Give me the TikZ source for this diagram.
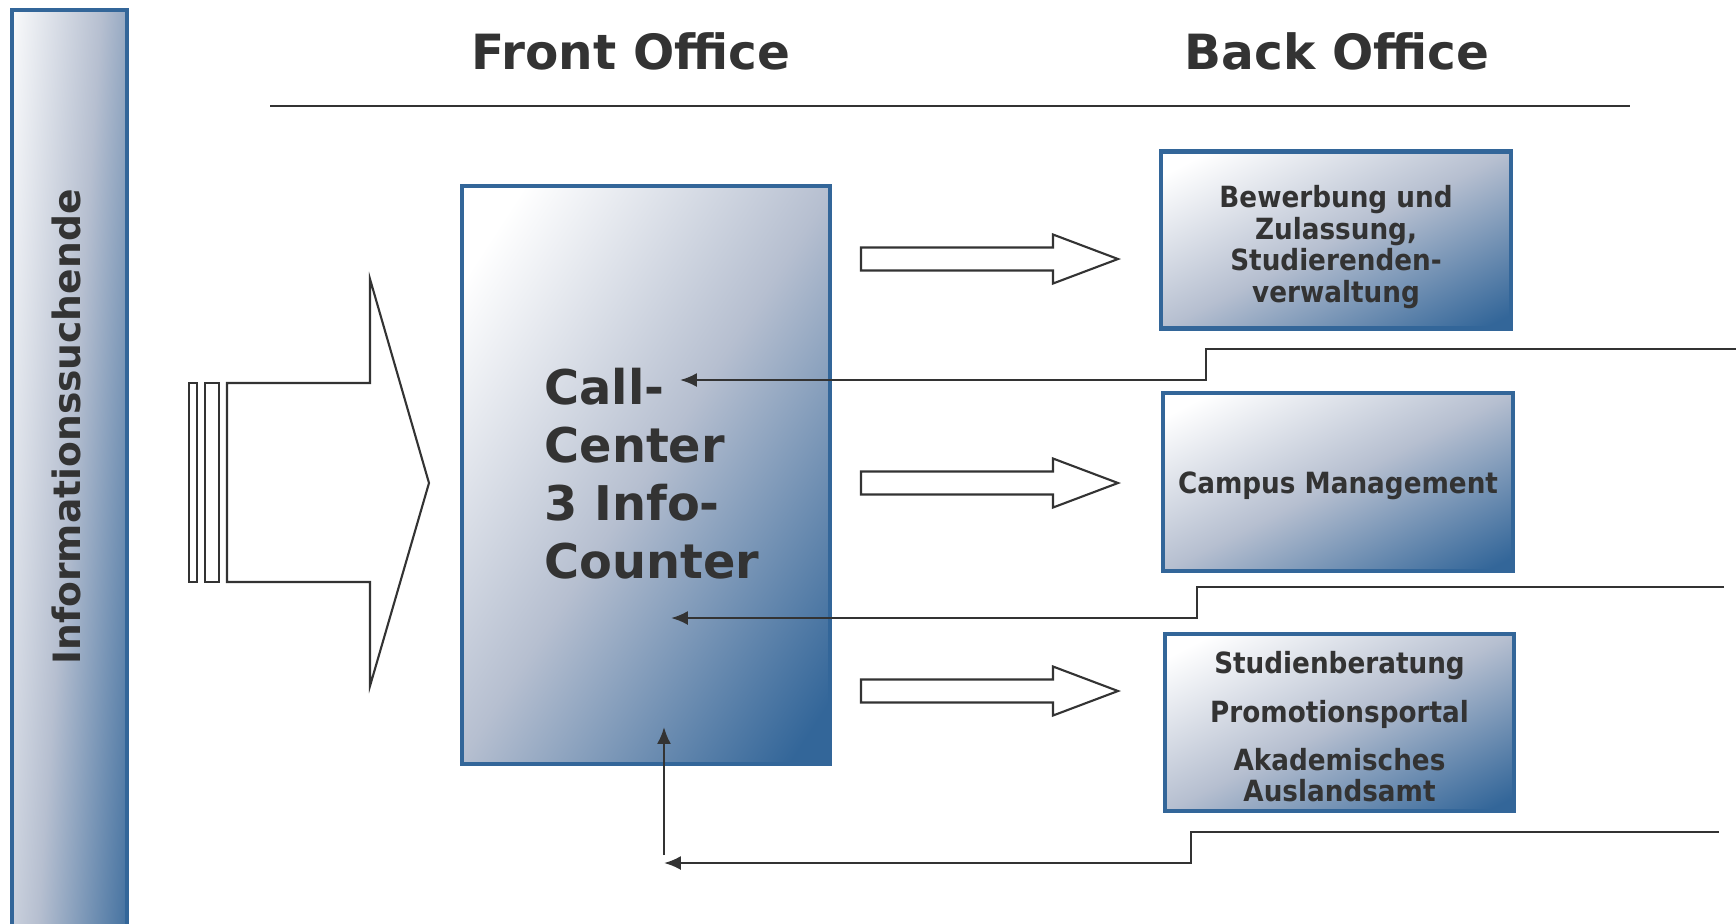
\documentclass[tikz,border=0pt]{standalone}
\usepackage{fontspec}
\usepackage{xcolor}
\usepackage{tikz}
\usetikzlibrary{arrows.meta}

\newfontfamily\headfont{DejaVu Sans}
\newfontfamily\boxfont{DejaVu Sans Condensed}

\definecolor{boxblue}{HTML}{336699}
\definecolor{boxmid}{HTML}{B6BFD0}
\definecolor{txtgray}{HTML}{333333}

\pgfdeclareverticalshading{officeshade}{100bp}{color(0bp)=(boxblue); color(19bp)=(boxblue);
  color(50bp)=(boxmid); color(79bp)=(white); color(100bp)=(white)}

\tikzset{
  officebox/.style={draw=boxblue, line width=1.2pt, inner sep=0pt, shade, shading=officeshade},
  headline/.style={font=\headfont\bfseries\fontsize{13.8}{16}\selectfont, text=txtgray},
  cclabel/.style={font=\headfont\bfseries\fontsize{13.6}{16.5}\selectfont, text=txtgray, align=left},
  backlabel/.style={font=\boxfont\bfseries\fontsize{8.3}{9}\selectfont, text=txtgray, align=center},
  hollow/.style={draw=txtgray, line width=0.6pt, fill=white, line join=miter},
  feedback/.style={draw=txtgray, line width=0.7pt, -{Latex[length=4.8pt,width=4pt]}},
}

\begin{document}
\begin{tikzpicture}[x=0.01cm,y=-0.01cm]
\useasboundingbox (0,0) rectangle (1736,923);

% Column headings and rule
\node[headline] (front) at (631,51) {Front Office};
\node[headline] (back) at (1337,51) {Back Office};
\draw[txtgray, line width=0.6pt] (270,106) -- (1630,106);

% Information seekers on the left
\node[officebox, shading angle=86, minimum width=1.15cm, minimum height=9.2cm] (seeker) at (69.5,470) {};
\node[rotate=90, font=\headfont\bfseries\fontsize{10.7}{13}\selectfont, text=txtgray] (seekertext) at (66,427) {Informationssuchende};

% Big striped arrow into the front office
\draw[hollow] (189,383) rectangle (197,582);
\draw[hollow] (205,383) rectangle (219,582);
\draw[hollow] (227,383) -- (370,383) -- (370,279) -- (429,483) -- (370,686) -- (370,582) -- (227,582) -- cycle;

% Front office
\node[officebox, shading angle=57, minimum width=3.68cm, minimum height=5.78cm] (cc) at (646,475) {};
\node[cclabel] (cctext) at (652,474) {Call-\\Center\\3 Info-\\Counter};

% Back office units
\node[officebox, shading angle=27, minimum width=3.5cm, minimum height=1.77cm] (bo1) at (1336,240) {};
\node[officebox, shading angle=27, minimum width=3.5cm, minimum height=1.78cm] (bo2) at (1338,482) {};
\node[officebox, shading angle=27, minimum width=3.49cm, minimum height=1.77cm] (bo3) at (1339.5,722.5) {};
\node[backlabel] (bo1text) at (1336,247) {Bewerbung und\\Zulassung,\\Studierenden-\\verwaltung};
\node[backlabel] (bo2text) at (1338,486) {Campus Management};
\node[backlabel] (bo3text) at (1339.5,727) {Studienberatung\\[4.7pt]Promotionsportal\\[4.7pt]Akademisches\\Auslandsamt};

% Hollow arrows from front to back office
\foreach \y in {259,483,691}
  \draw[hollow] (861,{\y-11.5}) -- (1053,{\y-11.5}) -- (1053,{\y-24.5}) -- (1118,\y)
    -- (1053,{\y+24.5}) -- (1053,{\y+11.5}) -- (861,{\y+11.5}) -- cycle;

% Answers coming back to the call center
\coordinate (in1) at (1736,349);
\coordinate (in2) at (1724,587);
\coordinate (in3) at (1719,832);
\coordinate (step1) at (1206,380);
\coordinate (step2) at (1197,618);
\coordinate (step3) at (1191,863);
\coordinate (tip1) at (680,380);
\coordinate (tip2) at (671,618);
\coordinate (tip3) at (664,863);
\coordinate (up0) at (664,855);
\coordinate (up1) at (664,727);
\draw[feedback] (in1) -| (step1) -- (tip1);
\draw[feedback] (in2) -| (step2) -- (tip2);
\draw[feedback] (in3) -| (step3) -- (tip3);
\draw[feedback] (up0) -- (up1);
\end{tikzpicture}
\end{document}
